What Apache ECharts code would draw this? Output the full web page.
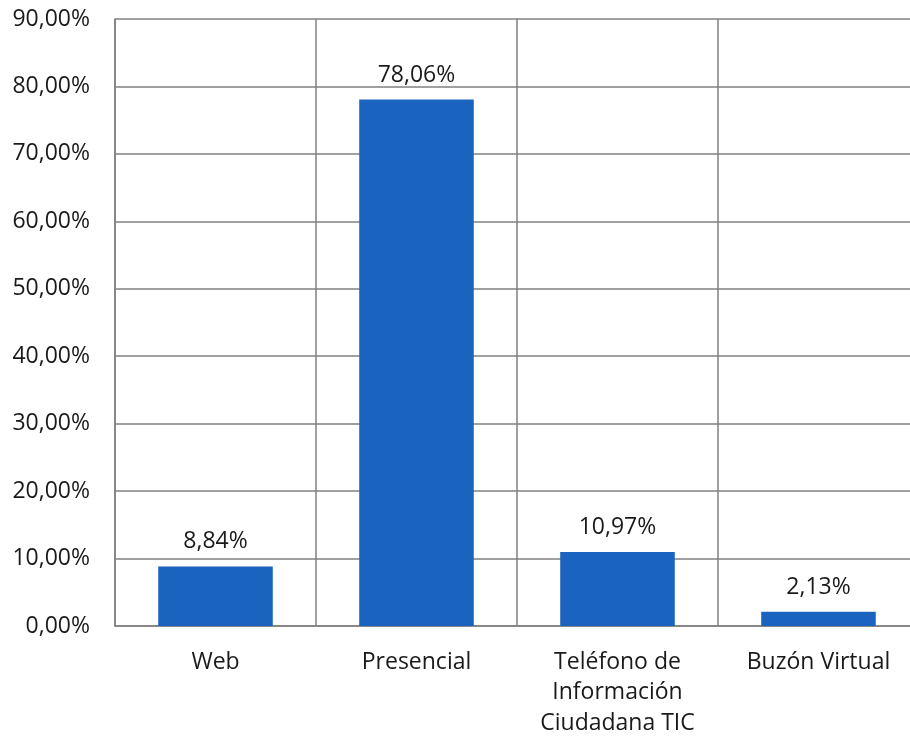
<!DOCTYPE html>
<html>
<head>
<meta charset="utf-8">
<script src="https://cdn.jsdelivr.net/npm/echarts@6/dist/echarts.min.js"></script>
<style>html,body{margin:0;padding:0;background:#fff;}#c{width:910px;height:737px;}</style>
</head>
<body>
<div id="c"></div>
<script>
const categories = ['Web', 'Presencial', 'Teléfono de\nInformación\nCiudadana TIC', 'Buzón Virtual'];
const values = [8.84, 78.06, 10.97, 2.13];
const yTicks = { min: 0, max: 90, interval: 10 };

const fmt = v => v.toFixed(2).replace('.', ',') + '%';
const font = '"Open Sans", sans-serif';
const chart = echarts.init(document.getElementById('c'), null, { renderer: 'canvas' });
chart.setOption({
  animation: false,
  backgroundColor: '#fff',
  grid: { left: 115, top: 19, width: 804, height: 607, outerBoundsMode: 'none', containLabel: false },
  xAxis: {
    type: 'category',
    data: categories,
    axisLine: { show: true, lineStyle: { color: '#808080', width: 1.5 } },
    axisTick: { show: false },
    splitLine: { show: true, interval: 0, lineStyle: { color: '#808080', width: 1.5 } },
    axisLabel: { interval: 0, color: '#1a1a1a', fontFamily: font, fontSize: 23, lineHeight: 30.5, margin: 21 }
  },
  yAxis: {
    type: 'value',
    min: yTicks.min, max: yTicks.max, interval: yTicks.interval,
    axisLine: { show: true, lineStyle: { color: '#808080', width: 1.5 } },
    axisTick: { show: false },
    splitLine: { show: true, lineStyle: { color: '#808080', width: 1.5 } },
    axisLabel: { color: '#1a1a1a', fontFamily: font, fontSize: 23, margin: 25, formatter: v => fmt(v) }
  },
  series: [{
    type: 'bar',
    data: values,
    barWidth: '57%',
    itemStyle: { color: '#1a64c0' },
    label: { show: true, position: 'top', distance: 13, color: '#1a1a1a', fontFamily: font, fontSize: 23, formatter: p => fmt(p.value) }
  }]
});
</script>
</body>
</html>
